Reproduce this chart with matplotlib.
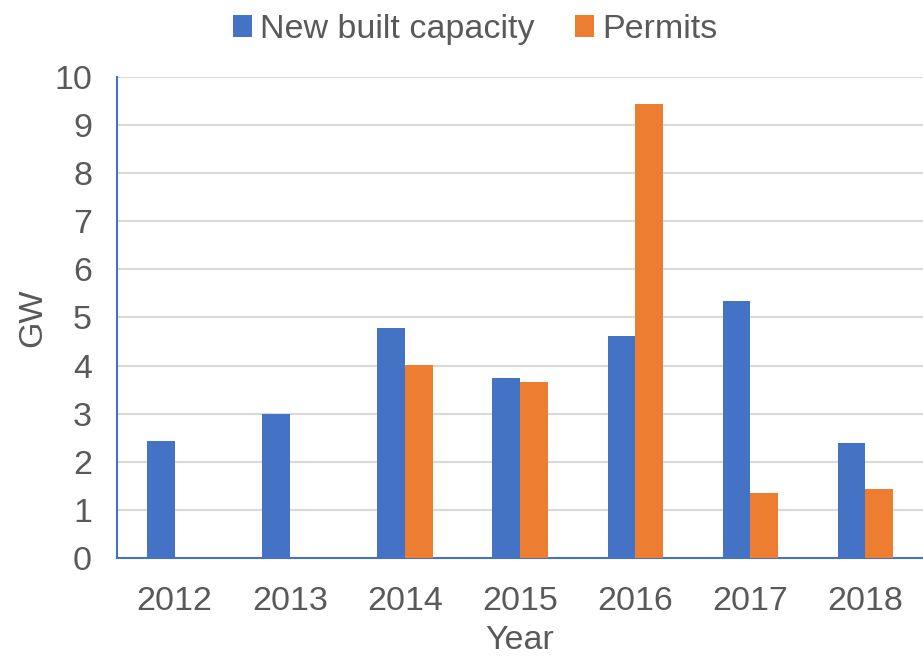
import numpy as np
import matplotlib.pyplot as plt

years = ["2012", "2013", "2014", "2015", "2016", "2017", "2018"]
new_built = [2.43, 2.99, 4.78, 3.74, 4.62, 5.34, 2.39]
permits = [0, 0, 4.01, 3.66, 9.44, 1.35, 1.43]

plt.rcParams['font.family'] = ['Liberation Sans', 'DejaVu Sans']
text_color = '#595959'
fs = 24.5

fig = plt.figure(figsize=(9.23, 6.59), dpi=100)
ax = fig.add_axes([0.1268, 0.1533, 0.8732, 0.7299])

x = np.arange(len(years))
w = 0.24
ax.bar(x - w / 2, new_built, w, color='#4472C4', label='New built capacity', zorder=3)
ax.bar(x + w / 2, permits, w, color='#ED7D31', label='Permits', zorder=3)

ax.set_xlim(-0.5, len(years) - 0.5)
ax.set_ylim(0, 10)
ax.set_yticks(range(0, 11))
ax.set_xticks(x)
ax.set_xticklabels(years)
ax.tick_params(axis='both', length=0, labelsize=fs, colors=text_color)
ax.tick_params(axis='x', pad=20)
ax.tick_params(axis='y', pad=18)
ax.yaxis.grid(True, color='#d9d9d9', linewidth=1.5, zorder=0)

for s in ['top', 'right']:
    ax.spines[s].set_visible(False)
for s in ['left', 'bottom']:
    ax.spines[s].set_color('#4472C4')
    ax.spines[s].set_linewidth(1.5)

ax.set_xlabel('Year', fontsize=fs, color=text_color, labelpad=6)
ax.set_ylabel('GW', fontsize=fs, color=text_color, labelpad=4)

fig.legend(loc='upper center', bbox_to_anchor=(0.515, 1.025), ncol=2, frameon=False,
           fontsize=fs, labelcolor=text_color, handlelength=0.55, handleheight=0.6,
           handletextpad=0.25, columnspacing=1.2)

fig.savefig('out.png', dpi=100)
